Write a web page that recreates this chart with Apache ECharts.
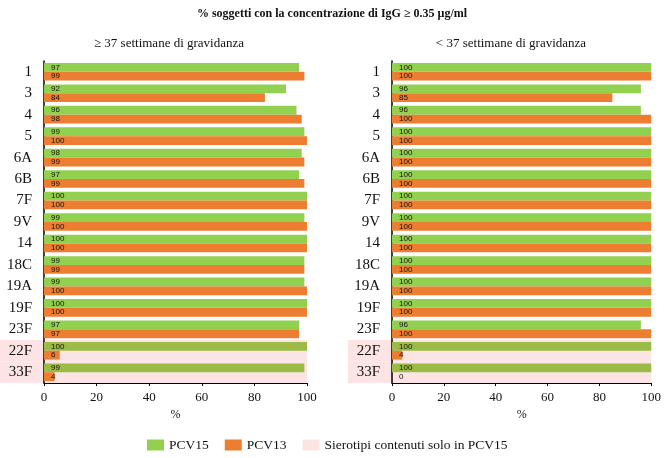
<!DOCTYPE html>
<html><head><meta charset="utf-8">
<script src="https://cdn.jsdelivr.net/npm/echarts@6/dist/echarts.min.js"></script>
<style>html,body{margin:0;padding:0;background:#fff}#c{width:664px;height:458px}</style>
</head><body><div id="c"></div>
<script>
const categories = ['1','3','4','5','6A','6B','7F','9V','14','18C','19A','19F','23F','22F','33F'];
const termPCV15 = [97,92,96,99,98,97,100,99,100,99,99,100,97,100,99];
const termPCV13 = [99,84,98,100,99,99,100,100,100,99,100,100,97,6,4];
const pretermPCV15 = [100,96,96,100,100,100,100,100,100,100,100,100,96,100,100];
const pretermPCV13 = [100,85,100,100,100,100,100,100,100,100,100,100,100,4,0];
const pcv15Only = ['22F','33F'];
const xTicks = [0,20,40,60,80,100];

const GREEN = '#92D050', OLIVE = '#9BBB47', ORANGE = '#ED7D31', PINK = '#FDE4E4';
const SERIF = '"Liberation Serif", "DejaVu Serif", serif';

function barData(vals, isGreen) {
  return vals.map((v, i) => ({
    value: v,
    itemStyle: { color: isGreen ? (pcv15Only.includes(categories[i]) ? OLIVE : GREEN) : ORANGE }
  }));
}
function pinkRender(params, api) {
  const idx = api.value(1);
  const p0 = api.coord([0, idx]);
  const p1 = api.coord([100, idx]);
  const h = api.size([0, 1])[1];
  const ext = 44;
  return { type: 'rect', shape: { x: p0[0] - ext, y: p0[1] - h / 2, width: p1[0] - p0[0] + ext, height: h },
           style: { fill: PINK } };
}
const label = { show: true, position: 'insideLeft', offset: [2, 0], fontSize: 8, color: '#111',
                fontFamily: '"Liberation Sans", sans-serif', formatter: p => p.value };

const grids = [
  { left: 44, width: 263, top: 61, height: 322 },
  { left: 392, width: 263, top: 61, height: 322 }
];
const option = {
  animation: false,
  textStyle: { fontFamily: SERIF },
  title: [
    { text: '% soggetti con la concentrazione di IgG ≥ 0.35 µg/ml', left: 'center', top: 3,
      textStyle: { fontFamily: SERIF, fontSize: 12, fontWeight: 'bold', color: '#111' } },
    { text: '≥ 37 settimane di gravidanza', left: 164, textAlign: 'center', top: 32,
      textStyle: { fontFamily: SERIF, fontSize: 13, fontWeight: 'normal', color: '#111' } },
    { text: '< 37 settimane di gravidanza', left: 506, textAlign: 'center', top: 32,
      textStyle: { fontFamily: SERIF, fontSize: 13, fontWeight: 'normal', color: '#111' } }
  ],
  legend: {
    left: 142, top: 433, itemWidth: 17, itemHeight: 11, itemGap: 16, icon: 'rect',
    textStyle: { fontFamily: SERIF, fontSize: 13.5, color: '#111' },
    data: ['PCV15', 'PCV13', 'Sierotipi contenuti solo in PCV15']
  },
  grid: grids,
  xAxis: [0, 1].map(g => ({
    type: 'value', gridIndex: g, min: 0, max: 100, interval: 20,
    name: '%', nameLocation: 'middle', nameGap: 26,
    nameTextStyle: { fontFamily: SERIF, fontSize: 12, color: '#111' },
    axisLine: { show: true, lineStyle: { color: '#000', width: 1 } },
    axisTick: { show: true, length: 3, lineStyle: { color: '#000' } },
    splitLine: { show: false },
    axisLabel: { fontFamily: SERIF, fontSize: 13, color: '#111', margin: 8 }
  })),
  yAxis: [0, 1].map(g => ({
    type: 'category', gridIndex: g, data: categories, inverse: true,
    axisLine: { show: true, lineStyle: { color: '#000', width: 1.5 } },
    axisTick: { show: false },
    axisLabel: { fontFamily: SERIF, fontSize: 15, color: '#111', margin: 12 }
  })),
  series: [
    { type: 'custom', name: 'Sierotipi contenuti solo in PCV15', xAxisIndex: 0, yAxisIndex: 0, z: 0,
      itemStyle: { color: PINK }, renderItem: pinkRender, encode: { x: 0, y: 1 },
      data: pcv15Only.map(c => [100, c]) },
    { type: 'custom', name: 'Sierotipi contenuti solo in PCV15', xAxisIndex: 1, yAxisIndex: 1, z: 0,
      itemStyle: { color: PINK }, renderItem: pinkRender, encode: { x: 0, y: 1 },
      data: pcv15Only.map(c => [100, c]) },
    { type: 'bar', name: 'PCV15', xAxisIndex: 0, yAxisIndex: 0, z: 2, itemStyle: { color: GREEN },
      barGap: '0%', barCategoryGap: '18%', label, data: barData(termPCV15, true) },
    { type: 'bar', name: 'PCV13', xAxisIndex: 0, yAxisIndex: 0, z: 2, itemStyle: { color: ORANGE },
      barGap: '0%', barCategoryGap: '18%', label, data: barData(termPCV13, false) },
    { type: 'bar', name: 'PCV15', xAxisIndex: 1, yAxisIndex: 1, z: 2, itemStyle: { color: GREEN },
      barGap: '0%', barCategoryGap: '18%', label, data: barData(pretermPCV15, true) },
    { type: 'bar', name: 'PCV13', xAxisIndex: 1, yAxisIndex: 1, z: 2, itemStyle: { color: ORANGE },
      barGap: '0%', barCategoryGap: '18%', label, data: barData(pretermPCV13, false) }
  ]
};
const chart = echarts.init(document.getElementById('c'), null, { renderer: 'canvas' });
chart.setOption(option);
</script></body></html>
